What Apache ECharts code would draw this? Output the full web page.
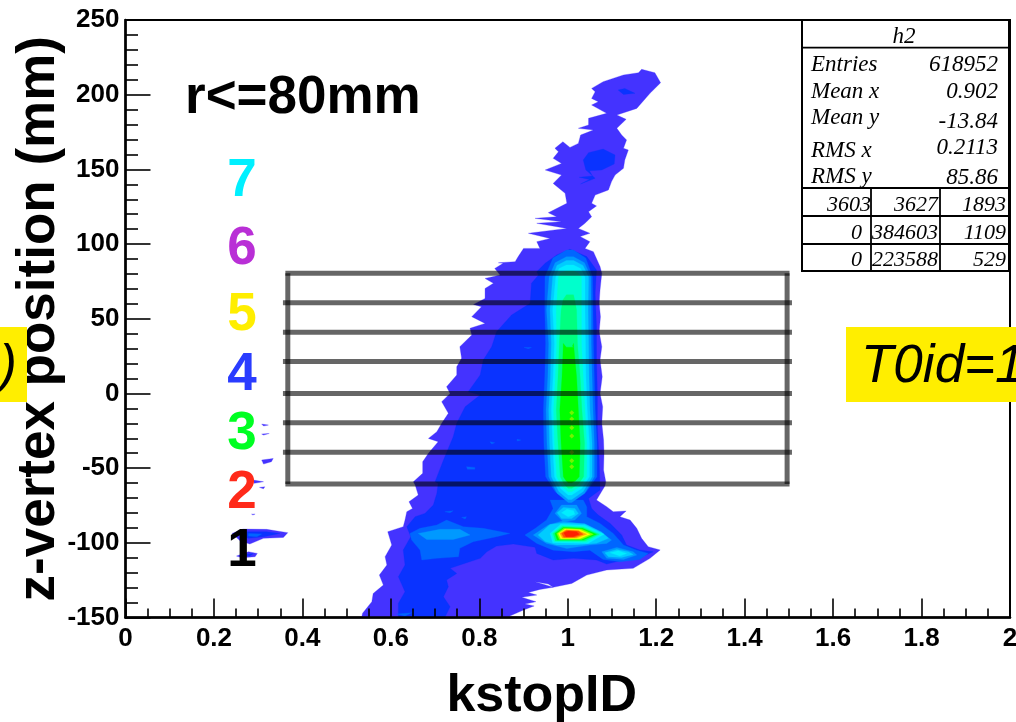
<!DOCTYPE html>
<html><head><meta charset="utf-8">
<style>html,body{margin:0;padding:0;background:#fff}#c{width:1016px;height:722px}</style>
<script src="https://cdn.jsdelivr.net/npm/echarts@6/dist/echarts.min.js"></script>
</head><body><div id="c"></div>
<script>
// ---- contour outlines: [kstopID, z (mm)] ----
const level1Main=[[1.167,217],[1.197,214.7],[1.21,208],[1.186,200.9],[1.156,190.8],[1.111,186.4],[1.132,183.5],[1.111,177.5],[1.122,173],[1.133,169.7],[1.126,164.1],[1.137,163],[1.129,156.3],[1.126,150.7],[1.107,146.2],[1.099,141.8],[1.092,136.2],[1.062,132.8],[1.054,127.3],[1.065,125.5],[1.047,121.7],[1.054,118.3],[1.039,113.9],[1.024,110.5],[1.05,107.2],[1.028,105],[1.05,101.6],[1.039,97.1],[1.058,94.9],[1.073,84.9],[1.077,80.4],[1.073,69.2],[1.071,60.3],[1.074,51.4],[1.071,41.3],[1.077,31.3],[1.073,22.4],[1.078,11.2],[1.073,0],[1.079,-8.9],[1.077,-20],[1.081,-31.2],[1.082,-40.1],[1.081,-51.3],[1.086,-59.1],[1.084,-62],[1.065,-71.4],[1.088,-75.8],[1.103,-79.2],[1.132,-78.7],[1.118,-82.5],[1.141,-84.8],[1.156,-90.3],[1.167,-97],[1.182,-102.6],[1.209,-104.8],[1.186,-110.4],[1.148,-117.1],[1.088,-118.2],[1.043,-121.6],[1.009,-127.2],[.967,-129.8],[.956,-127.6],[.926,-126],[.967,-129.8],[.937,-131.2],[.911,-133.2],[.93,-135],[.896,-136.5],[.928,-139.4],[.903,-141],[.924,-142.3],[.9,-145],[.869,-149],[.866,-150],[.534,-150],[.536,-147.2],[.557,-139.4],[.56,-133.9],[.583,-128.3],[.574,-121.6],[.591,-114.9],[.587,-109.3],[.602,-101.5],[.593,-92.6],[.628,-89.2],[.632,-84.8],[.636,-79.2],[.649,-77],[.641,-72.5],[.662,-68],[.655,-61.3],[.651,-59.1],[.672,-53.5],[.672,-45.7],[.685,-40.1],[.707,-32.3],[.685,-30.1],[.704,-25.6],[.715,-20],[.73,-13.3],[.715,-5.5],[.734,0],[.726,4.5],[.749,12.3],[.749,17.9],[.76,23.5],[.756,31.3],[.783,39.1],[.779,43.6],[.813,46.9],[.783,51.4],[.805,58.1],[.787,59.6],[.813,63.6],[.813,70.3],[.832,73.7],[.813,77],[.847,79.3],[.835,83.7],[.854,87.1],[.843,87.5],[.881,88.2],[.888,91.6],[.9,97.1],[.937,97.1],[.93,101.6],[.96,103.8],[.911,107.2],[.998,110.5],[.93,113.9],[.986,115],[.926,117.2],[.975,118.3],[.956,121],[.998,127.3],[.994,134],[.967,140.6],[.986,146.2],[.949,149.6],[.986,154],[.967,157.4],[.979,161.8],[.971,164.1],[.989,168.5],[1.005,164.7],[1.024,167.4],[1.029,173],[1.058,176.3],[1.024,177.5],[1.047,179.7],[1.047,184.2],[1.088,187.5],[1.054,193.1],[1.069,195.3],[1.054,197.5],[1.062,202],[1.054,204.2],[1.08,208.7],[1.126,213.2],[1.16,214.7]];
const level1Islands=[
 [[.241,-93.7],[.266,-90.8],[.319,-91],[.367,-93.2],[.357,-96.4],[.312,-97],[.281,-100.8],[.259,-98.6]],
 [[.251,-108.9],[.278,-106],[.298,-107.1],[.293,-109.3],[.263,-110]],
 [[.308,-44.6],[.334,-43.5],[.33,-45.7],[.312,-47.3]],
 [[.289,-58],[.312,-59.1],[.291,-60.2]],
 [[.303,-62.9],[.315,-62.5],[.312,-63.8]],
 [[.308,-20.5],[.323,-21.2],[.312,-21.8]],
 [[.308,-27.2],[.325,-26.8],[.312,-27.9]],
 [[.285,-80.8],[.293,-80.8],[.288,-81.4]]];
const level2Main=[[1.005,96.5],[1.043,91.6],[1.065,82.6],[1.062,67],[1.065,44.7],[1.065,22.4],[1.067,0],[1.067,-22.3],[1.071,-44.6],[1.073,-64.7],[1.047,-70.3],[1.054,-77],[1.069,-81.4],[1.096,-87],[1.122,-94.8],[1.133,-101.5],[1.163,-104.8],[1.193,-106],[1.163,-109.8],[1.126,-111.5],[1.088,-114.2],[1.065,-111.5],[1.013,-110.4],[.967,-111.5],[.93,-107.1],[.926,-103],[.877,-100.8],[.839,-102.2],[.817,-106],[.802,-110.4],[.756,-114.9],[.734,-117.1],[.749,-120.5],[.726,-124.9],[.73,-129.4],[.719,-136.1],[.734,-142.8],[.722,-150],[.617,-150],[.617,-140.5],[.632,-132.7],[.617,-122.7],[.632,-114.9],[.628,-104.8],[.645,-95.9],[.636,-89.2],[.655,-82.5],[.677,-80.3],[.696,-74.7],[.704,-66.9],[.707,-60.2],[.7,-59.1],[.719,-44.6],[.741,-29],[.749,-20],[.768,-8.9],[.802,-1.1],[.775,1.2],[.802,12.3],[.809,22.4],[.828,31.3],[.839,41.3],[.873,52.5],[.915,60.3],[.918,73.7],[.934,79.3],[.93,81.5],[.949,87.1],[.975,92.7]];
const level2Islands=[
 [[1.114,203.1],[1.129,204.2],[1.152,200.9],[1.126,200.2]],
 [[1.035,156.3],[1.047,161.2],[1.08,163.6],[1.107,159.6],[1.105,153.6],[1.077,149.6],[1.049,149.1],[1.056,145.6],[1.026,144.7],[1.049,143.3],[1.029,140.2],[1.062,144],[1.041,149.6]],
 [[.266,-92.6],[.319,-92.6],[.349,-93.7],[.312,-95.9],[.278,-97],[.255,-94.8]],
 [[.263,-108.2],[.289,-107.1],[.281,-108.9]]];
const level3Islands=[
 [[.96,-71.4],[.967,-77],[.952,-84.8],[.926,-90.4],[.903,-94.8],[.93,-100.4],[.967,-104.9],[1.013,-106],[1.05,-104.9],[1.08,-111.1],[1.118,-112.7],[1.163,-111.1],[1.182,-107.1],[1.156,-104.9],[1.126,-101.5],[1.103,-93.7],[1.073,-87],[1.043,-82.6],[1.043,-75.9],[1.035,-71.4]],
 [[.643,-93.7],[.666,-90.3],[.704,-88.1],[.726,-84.8],[.764,-89.2],[.809,-90.3],[.869,-93.7],[.839,-95.9],[.786,-99.3],[.756,-103.7],[.753,-109.3],[.704,-110.4],[.67,-111.5],[.666,-104.8],[.647,-98.2]],
 [[.722,-79.2],[.741,-78.5],[.734,-79.9]],
 [[.76,-83],[.771,-82.5],[.768,-84.1]],
 [[.613,-147.7],[.647,-146.8],[.632,-149]],
 [[.901,30.8],[.918,30.8],[.911,30]],
 [[.771,-49],[.79,-49.5],[.79,-50.8],[.773,-50.8]],
 [[.824,-32.3],[.835,-33],[.828,-33.9]],
 [[.885,-30.7],[.894,-31.2],[.886,-31.9]],
 [[.278,-93.7],[.308,-94.1],[.297,-95.9],[.278,-95.5]]];
const level4Islands=[
 [[.971,-80.3],[.986,-74.7],[1.02,-74.7],[1.031,-80.3],[1.016,-84.8],[.99,-85.9]],
 [[.922,-94.8],[.956,-88.1],[.99,-85.2],[1.043,-88.1],[1.08,-93.7],[1.099,-98.2],[1.088,-100.4],[1.05,-101.5],[.998,-103.8],[.952,-100.4]],
 [[1.077,-106],[1.111,-103.1],[1.148,-106],[1.156,-108.2],[1.126,-111.1],[1.088,-110.4]],
 [[.662,-93.7],[.711,-91],[.756,-91],[.779,-94.8],[.741,-97.7],[.681,-97.7]]];
const level5Islands=[
 [[.976,-79.9],[.99,-76.3],[1.016,-77],[1.024,-80.3],[1.009,-83.7],[.986,-83.7]],
 [[.933,-94.8],[.96,-87.7],[.99,-86.5],[1.038,-87.2],[1.076,-92.7],[1.092,-97],[1.065,-100.3],[1.02,-101.4],[.975,-101.4],[.949,-99.2]],
 [[1.084,-106.7],[1.111,-104.4],[1.137,-106],[1.148,-107.8],[1.122,-109.8],[1.092,-109.3]]];
const level6Islands=[
 [[.986,-79.9],[.998,-77.6],[1.013,-78.5],[1.016,-80.8],[1.001,-82.6]],
 [[.96,-93.7],[.984,-87.6],[1.039,-88.3],[1.082,-94.3],[1.046,-100.4],[.966,-99.9]],
 [[1.096,-106.7],[1.114,-105.3],[1.133,-107.1],[1.118,-108.9]]];
const level7Islands=[[[.963,-93.7],[.986,-88.3],[1.036,-89],[1.076,-94.3],[1.043,-99.7],[.969,-99.2]]];
const level8Islands=[[[.967,-93.7],[.988,-89],[1.035,-89.7],[1.071,-94.3],[1.039,-98.8],[.972,-98.8]]];
const level9Islands=[[[.971,-93.7],[.99,-89.7],[1.033,-90.3],[1.065,-94.3],[1.035,-98.1],[.976,-98.1]]];
const level10Islands=[[[.975,-93.7],[.991,-90.3],[1.031,-90.8],[1.058,-94.3],[1.031,-97.7],[.981,-97.7]]];
const level11Islands=[[[.979,-93.7],[.994,-90.8],[1.027,-91.2],[1.05,-94.3],[1.027,-97.2],[.984,-97.2]]];
const level12Islands=[[[.982,-93.7],[.996,-91.2],[1.024,-91.7],[1.043,-94.3],[1.02,-96.8],[.988,-96.8]]];
const level13Islands=[[[.986,-93.7],[.997,-91.7],[1.024,-92.1],[1.035,-94.3],[1.016,-96.3],[.991,-96.3]]];
const level14Islands=[[[.991,-93.2],[1.001,-92.1],[1.02,-92.6],[1.026,-94.3],[1.012,-95.9],[.996,-95.9]]];

// central column: edge positions at these z values, with top and bottom caps
const columnZ=[78.1,55.8,33.5,11.2,-11.1,-33.4,-55.7];
const column3={left:[.9485,.948,.95,.948,.945,.946,.95],right:[1.056,1.057,1.058,1.06,1.062,1.066,1.066],top:96,bottom:-71.4};
const column4={left:[.958,.952,.957,.955,.951,.953,.957],right:[1.052,1.053,1.053,1.055,1.057,1.06,1.06],top:91.5,bottom:-73};
const column5={left:[.966,.96,.963,.961,.957,.959,.963],right:[1.047,1.046,1.047,1.048,1.05,1.055,1.055],top:89,bottom:-71};
const column6={left:[.973,.966,.97,.967,.963,.966,.97],right:[1.039,1.039,1.04,1.041,1.044,1.049,1.049],top:86,bottom:-68};
const column7={left:[.979,.974,.975,.972,.968,.97,.975],right:[1.031,1.031,1.031,1.035,1.039,1.043,1.043],top:82,bottom:-65.8};
const column8={left:[null,.985,.981,.978,.974,.978,.983],right:[null,1.02,1.022,1.028,1.032,1.038,1.036],top:66,bottom:-63.5};
const column9={left:[null,null,.99,.987,.982,.985,.99],right:[null,null,1.013,1.02,1.024,1.028,1.026],top:31,bottom:-60};
const hotSpots=[[1.009,-12.9],[1.009,-17.1],[1.009,-22.9],[1.009,-28.5],[1.009,-39.4],[1.009,-45],[1.009,-49]];

const levelColors=['#4433ff','#0a33ff','#0066ff','#0099ff','#00ccff','#00eeff','#00ffcc','#00ff80','#00ff00','#80ff00','#ffff00','#ffaa00','#ff5500','#ff2000'];

// overlay box
const boxLeft=.367, boxRight=1.496, lineLeft=.356, lineRight=1.507;
const boxEdges=[80.4,-60.7];
const sliceEdges=[60.7,41,21.4,0,-19.6,-39.3];

// tick ranges
const xRange=[0,2], yRange=[-150,250];
const sliceNumbers=['1','2','3','4','5','6','7'];
const sliceColors=['#000000','#ff2a1a','#00ff22','#2a3cff','#ffee00','#b92fd6','#00f0ff'];
const statNames=['Entries','Mean x','Mean y','RMS x','RMS y'];
const statValues=['618952','0.902','-13.84','0.2113','85.86'];
const overflowRows=[['3603','3627','1893'],['0','384603','1109'],['0','223588','529']];

function columnPoly(c){
  const L=[],R=[];
  columnZ.forEach((z,i)=>{ if(c.left[i]!=null){L.push([c.left[i],z]);R.push([c.right[i],z]);} });
  const mid=1.005, n=R.length-1;
  const t=c.top-(c.top-R[0][1])*.3, b=R[n][1]-(R[n][1]-c.bottom)*.65;
  return [[mid-.008,c.top],[mid+.008,c.top],
    [mid+(R[0][0]-mid)*.7,t],...R,[mid+(R[n][0]-mid)*.6,b],[mid+.004,c.bottom],[mid-.004,c.bottom],[mid+(L[n][0]-mid)*.6,b],
    ...L.reverse(),[mid+(L[0][0]-mid)*.7,t]];
}
const levels=[
 [level1Main,...level1Islands],
 [level2Main,...level2Islands],
 [columnPoly(column3),...level3Islands],
 [columnPoly(column4),...level4Islands],
 [columnPoly(column5),...level5Islands],
 [columnPoly(column6),...level6Islands],
 [columnPoly(column7),...level7Islands],
 [columnPoly(column8),...level8Islands],
 [columnPoly(column9),...level9Islands],
 level10Islands,level11Islands,level12Islands,level13Islands,level14Islands];

const series=levels.map((polys,k)=>({
  type:'custom',coordinateSystem:'cartesian2d',z:2+k*0.01,silent:true,clip:true,animation:false,
  data:polys.map((p,i)=>[p[0][0],p[0][1],i]),
  renderItem(params,api){
    const p=polys[api.value(2)];
    return {type:'polygon',shape:{points:p.map(q=>api.coord(q))},style:{fill:levelColors[k],stroke:levelColors[k],lineWidth:.3}};
  }
}));
series.push({type:'scatter',data:hotSpots,symbol:'diamond',symbolSize:[5,5],itemStyle:{color:'#90f000'},z:3,silent:true,animation:false});
const lineStyle={color:'#000',opacity:.6,width:5};
function seg(a,b){return {type:'line',data:[a,b],symbol:'none',lineStyle,z:4,silent:true,animation:false,clip:false};}
boxEdges.forEach(z=>series.push(seg([boxLeft-.0055,z],[boxRight+.0055,z])));
[boxLeft,boxRight].forEach(x=>series.push(seg([x,boxEdges[0]],[x,boxEdges[1]])));
sliceEdges.forEach(z=>series.push(seg([lineLeft,z],[lineRight,z])));

const SANS='"Liberation Sans",Arial,sans-serif', SERIF='"Liberation Serif",serif';
const g=[];
function txt(text,x,y,font,fill,align,z){g.push({type:'text',z:z||20,style:{text,x,y,font,fill:fill||'#000',textAlign:align||'left',textVerticalAlign:'middle'}});}
function rect(x,y,w,h,fill,stroke,z){g.push({type:'rect',z:z||15,shape:{x,y,width:w,height:h},style:{fill:fill||'none',stroke:stroke||'none',lineWidth:2}});}
function ln(x1,y1,x2,y2){g.push({type:'line',z:16,shape:{x1,y1,x2,y2},style:{stroke:'#000',lineWidth:1.8}});}
// stats box
rect(802,20,207,251,'#fff','#000');
[47.7,188,216,244].forEach(y=>ln(802,y,1009,y));
[871,940].forEach(x=>ln(x,188,x,271));
const statFont='italic 23px '+SERIF;
txt('h2',904,37,statFont,'#000','center');
const nameY=[65,92,118,151,177], valY=[65,92,122,148,178];
statNames.forEach((n,i)=>txt(n,811,nameY[i],statFont));
statValues.forEach((v,i)=>txt(v,998,valY[i],statFont,'#000','right'));
const rowY=[205,233,260], rowColX=[[871,938,1006],[862,938,1006],[862,938,1006]];
overflowRows.forEach((r,i)=>r.forEach((v,j)=>txt(v,rowColX[i][j],rowY[i],'italic 22px '+SERIF,'#000','right')));
// annotations
txt('r<=80mm',185,98,'bold 53px '+SANS);
const sliceY=[551,493,434,375,315,249,181];
sliceNumbers.forEach((s,i)=>txt(s,242,sliceY[i],'bold 53px '+SANS,sliceColors[i],'center'));
// yellow labels
rect(0,327,27,75,'#ffee00',null,17);
rect(846,327,170,75,'#ffee00',null,17);
txt(')',17,367,'italic 53px '+SANS,'#000','right',18);
txt('T0id=1',861,367,'italic 53px '+SANS,'#000','left',18);

const chart=echarts.init(document.getElementById('c'),null,{renderer:'canvas'});
chart.setOption({
  animation:false,backgroundColor:'#fff',
  grid:{left:125.5,top:20,right:6,bottom:104.5,outerBoundsMode:'none',containLabel:false,show:true,borderColor:'#000',borderWidth:2,backgroundColor:'transparent'},
  xAxis:{type:'value',min:xRange[0],max:xRange[1],interval:.2,z:10,
    name:'kstopID',nameLocation:'middle',nameGap:53,nameMoveOverlap:false,
    nameTextStyle:{fontFamily:'Liberation Sans',fontWeight:'bold',fontSize:52,color:'#000',padding:[0,52,0,0]},
    axisLine:{onZero:false,lineStyle:{color:'#000',width:2.5}},
    axisTick:{inside:true,length:19,lineStyle:{color:'#000',width:1.6}},
    minorTick:{show:true,splitNumber:4,length:9,lineStyle:{color:'#000',width:1.6}},
    splitLine:{show:false},minorSplitLine:{show:false},
    axisLabel:{margin:8,fontFamily:'Liberation Sans',fontWeight:'bold',fontSize:26,color:'#000',showMinLabel:true,showMaxLabel:true,hideOverlap:false,
      formatter:v=>String(+v.toFixed(1))}},
  yAxis:{type:'value',min:yRange[0],max:yRange[1],interval:50,z:10,
    name:'z-vertex position (mm)',nameLocation:'middle',nameGap:60,nameRotate:90,nameMoveOverlap:false,
    nameTextStyle:{fontFamily:'Liberation Sans',fontWeight:'bold',fontSize:53,color:'#000'},
    axisLine:{onZero:false,lineStyle:{color:'#000',width:2.5}},
    axisTick:{inside:true,length:25,lineStyle:{color:'#000',width:1.6}},
    minorTick:{show:true,splitNumber:5,length:12.5,lineStyle:{color:'#000',width:1.6}},
    splitLine:{show:false},minorSplitLine:{show:false},
    axisLabel:{margin:6,fontFamily:'Liberation Sans',fontWeight:'bold',fontSize:26,color:'#000',padding:[7,0,0,0],showMinLabel:true,showMaxLabel:true,hideOverlap:false}},
  series,graphic:{elements:g}
});
</script></body></html>
